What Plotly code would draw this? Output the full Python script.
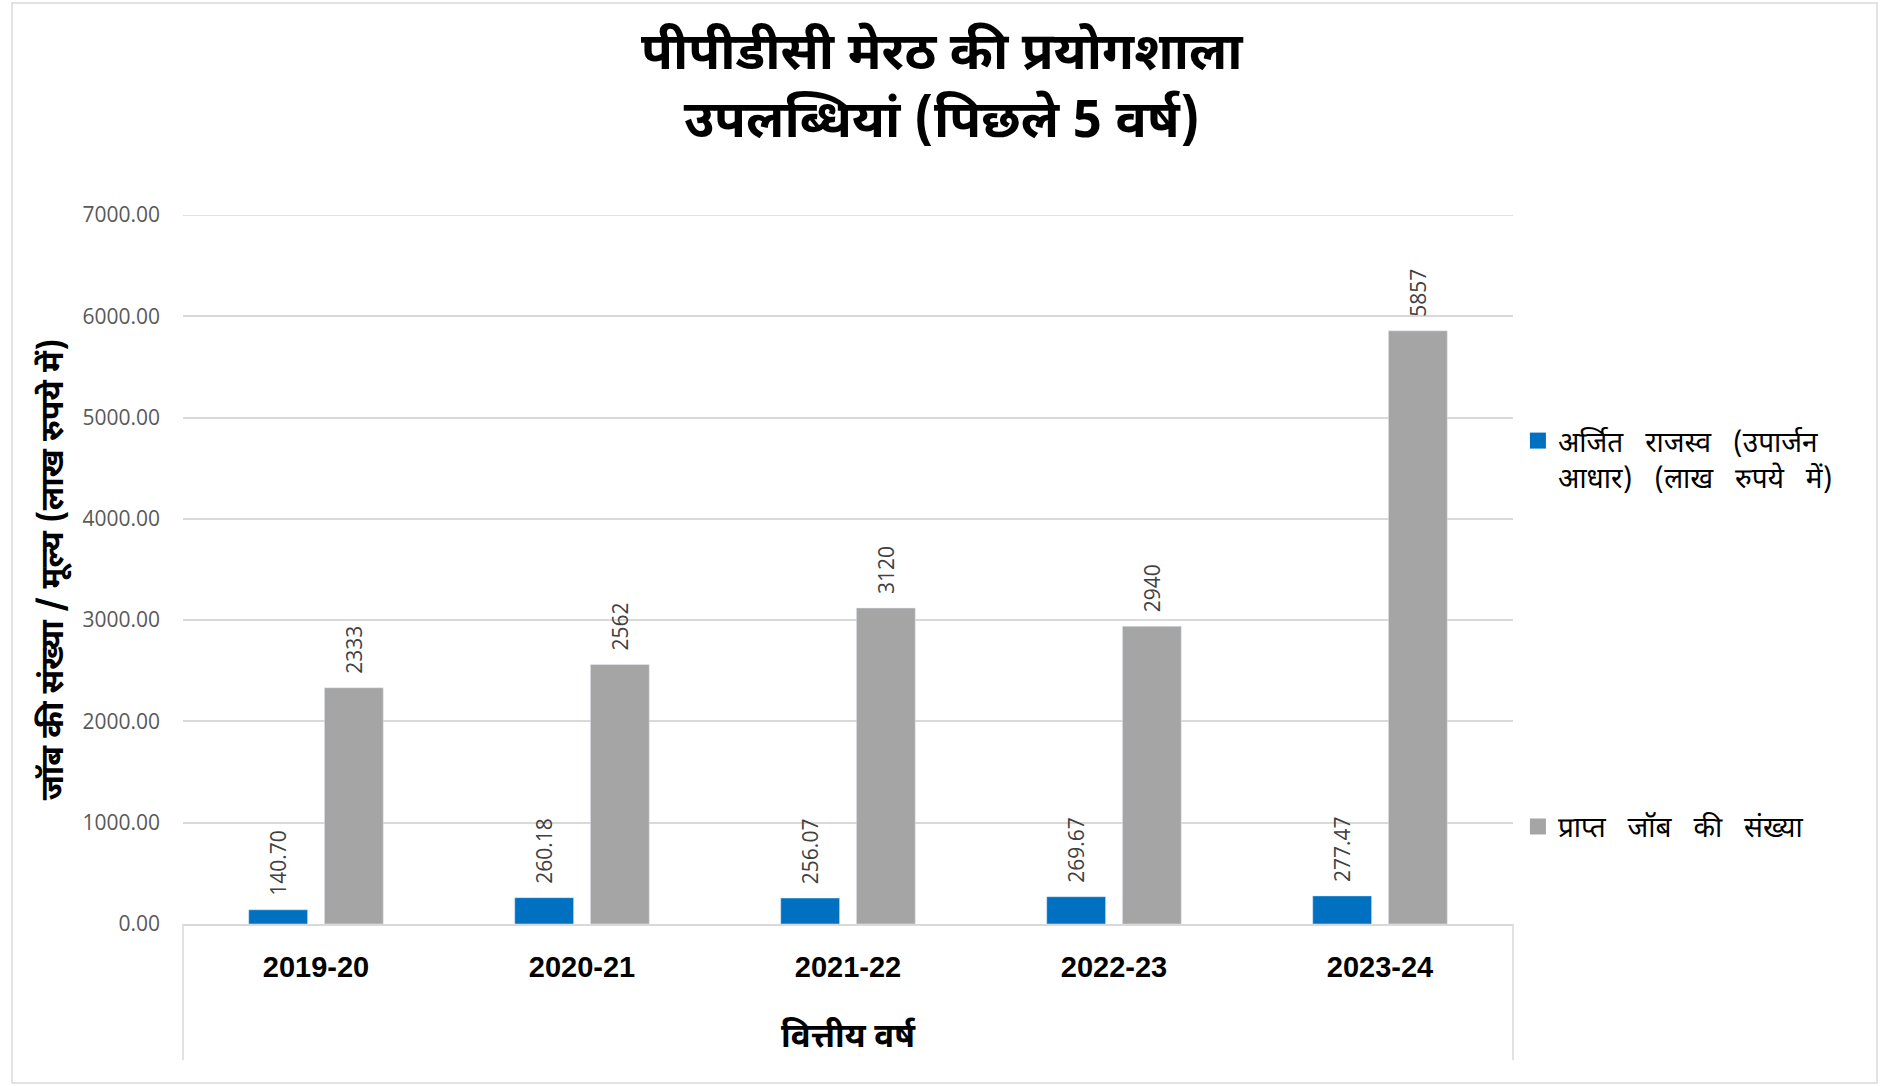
import plotly.graph_objects as go

years = ["2019-20", "2020-21", "2021-22", "2022-23", "2023-24"]
revenue = [140.70, 260.18, 256.07, 269.67, 277.47]
jobs = [2333, 2562, 3120, 2940, 5857]
y_ticks = [0, 1000, 2000, 3000, 4000, 5000, 6000, 7000]

SP = " \u00a0\u00a0"
name_rev = SP.join(["अर्जित", "राजस्व", "(उपार्जन"]) + "<br>" + SP.join(["आधार)", "(लाख", "रुपये", "में)"])
name_jobs = SP.join(["प्राप्त", "जॉब", "की", "संख्या"])
title = "पीपीडीसी मेरठ की प्रयोगशाला<br>उपलब्धियां (पिछले 5 वर्ष)"
ytitle = "जॉब की संख्या / मूल्य (लाख रुपये में)"
xtitle = "वित्तीय वर्ष"

BLUE = "#0070C0"
GRAY = "#A5A5A5"
HINDI = "Noto Sans Devanagari, Noto Sans, Arial, sans-serif"
NUM = "Open Sans, Noto Sans, sans-serif"
PAD = "\u00a0\u00a0"

fig = go.Figure()
fig.add_trace(go.Bar(
    x=years, y=revenue, name=name_rev, marker_color=BLUE,
    text=[PAD + f"{v:.2f}" for v in revenue], textposition="outside",
    textangle=-90, textfont=dict(family=NUM, size=21, color="#404040"),
    constraintext="none", cliponaxis=False, showlegend=False,
))
fig.add_trace(go.Bar(
    x=years, y=jobs, name=name_jobs, marker_color=GRAY,
    text=[PAD + f"{v:d}" for v in jobs], textposition="outside",
    textangle=-90, textfont=dict(family=NUM, size=21, color="#404040"),
    constraintext="none", cliponaxis=False, showlegend=False,
))
# legend entries
fig.add_trace(go.Scatter(x=[None], y=[None], mode="markers", name=name_rev,
                         marker=dict(symbol="square", size=16, color=BLUE),
                         legend="legend", showlegend=True))
fig.add_trace(go.Scatter(x=[None], y=[None], mode="markers", name=name_jobs,
                         marker=dict(symbol="square", size=16, color=GRAY),
                         legend="legend2", showlegend=True))

fig.update_layout(
    width=1884, height=1086,
    paper_bgcolor="white", plot_bgcolor="white",
    margin=dict(l=183, r=371, t=215, b=162),
    barmode="group", bargap=0.431, bargroupgap=0.222,
    showlegend=True,
    legend=dict(x=1.0037, y=0.656, xanchor="left", yanchor="middle", valign="top",
                font=dict(family=HINDI, size=28, color="black"),
                itemsizing="trace", bgcolor="rgba(0,0,0,0)"),
    legend2=dict(x=1.0037, y=0.137, xanchor="left", yanchor="middle", valign="top",
                 font=dict(family=HINDI, size=28, color="black"),
                 itemsizing="trace", bgcolor="rgba(0,0,0,0)"),
    xaxis=dict(
        tickfont=dict(family="Arial, Liberation Sans", size=29, color="black", weight="bold"),
        showline=True, linecolor="#D9D9D9", linewidth=2, ticks="", ticklabelstandoff=16,
        title=dict(text=xtitle, font=dict(family=HINDI, size=33, color="black", weight="bold"), standoff=42),
    ),
    yaxis=dict(
        range=[0, 7000], tickvals=y_ticks, tickformat=".2f",
        tickfont=dict(family=NUM, size=21, color="#595959"),
        showgrid=True, gridcolor="#D9D9D9", gridwidth=1.5,
        zeroline=False, ticks="", ticklabelstandoff=22,
        title=dict(text=ytitle, font=dict(family=HINDI, size=32, color="black", weight="bold"), standoff=9),
    ),
    annotations=[
        dict(text=title, xref="paper", yref="paper", x=(942 - 183) / 1330, y=(924 - 90) / 709,
             xanchor="center", yanchor="middle", showarrow=False,
             font=dict(family=HINDI, size=52, color="black", weight="bold")),
    ],
    shapes=[
        dict(type="line", xref="paper", yref="y", x0=0, x1=1, y0=y_ticks[-1], y1=y_ticks[-1],
             line=dict(color="#D9D9D9", width=1.5), layer="below"),
        dict(type="line", xref="paper", yref="paper", x0=0, x1=0, y0=0, y1=-0.192,
             line=dict(color="#D9D9D9", width=1.5)),
        dict(type="line", xref="paper", yref="paper", x0=1, x1=1, y0=0, y1=-0.192,
             line=dict(color="#D9D9D9", width=1.5)),
        dict(type="rect", xref="paper", yref="paper",
             x0=(12 - 183) / 1330, x1=(1877 - 183) / 1330,
             y0=-(1083 - 924) / 709, y1=(924 - 3) / 709,
             line=dict(color="#D9D9D9", width=1.5)),
    ],
)

fig.write_html("out.html", config={"displayModeBar": False},
               post_script="document.body.style.margin='0px';")
